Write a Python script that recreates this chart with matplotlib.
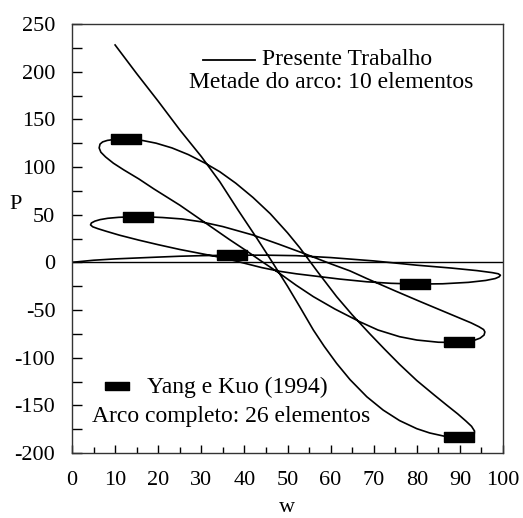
import matplotlib
matplotlib.use('Agg')
import matplotlib.pyplot as plt
from matplotlib.ticker import MultipleLocator

plt.rcParams['font.family'] = ['Liberation Serif', 'DejaVu Serif']
plt.rcParams['font.size'] = 16
plt.rcParams['axes.unicode_minus'] = False

# Presente Trabalho - equilibrium path, one branch per half loop
w_ramo1 = [0, 5, 10, 15, 20, 25, 30, 37, 45, 52, 60, 70, 80, 88, 94, 97.5, 98.9, 99.4]
p_ramo1 = [0, 2.2, 3.6, 4.6, 5.5, 6.4, 7.0, 7.5, 7.5, 7.0, 5.0, 1.5, -3.0, -6.0, -8.7, -10.8, -12.0, -13.5]

w_ramo2 = [99.1, 98.2, 96, 92, 86, 80, 74, 68.4, 62, 57.5, 52, 48.3, 44, 40.5, 37, 33, 29, 25, 20, 15.5, 11, 8, 6, 4.8, 4.3]
p_ramo2 = [-15.2, -17, -19, -21, -22.5, -22.8, -22, -20.4, -17.5, -15, -12, -9.5, -5.5, -1.5, 2.5, 6.5, 10, 13.5, 18.5, 23.3, 28.5, 32.5, 35.3, 37.3, 39.3]

w_ramo3 = [4.5, 5.3, 6.5, 8.3, 10.8, 13, 15.2, 18, 21, 25.5, 30, 35, 42, 48, 53.7, 60, 64.5, 68.4, 75, 80.7, 86, 90, 92.6, 94.4, 95.5, 95.8]
p_ramo3 = [41.3, 43.2, 44.8, 46.2, 47.2, 47.6, 47.8, 47.6, 47.0, 45.5, 42.5, 37.5, 28.6, 19, 9.5, -1.5, -9, -17, -30, -41, -51, -58.5, -63.5, -67.5, -70.5, -73]

w_ramo4 = [95.6, 94.7, 93.2, 91.6, 89.8, 87.5, 85, 80, 76, 71, 66.8, 61, 56, 52, 48.3, 44, 40.5, 36.5, 33, 29, 25, 19, 15.5, 12, 9.6, 7.8, 6.7, 6.3]
p_ramo4 = [-76.3, -79.5, -82, -83.4, -83.8, -84, -83.8, -81.5, -78, -71, -62.4, -49, -36, -24, -12, 1, 12, 24, 35, 47.5, 60, 77, 87.5, 97, 104, 110.5, 115.5, 120]

w_ramo5 = [6.5, 7.1, 8.2, 9.7, 11.2, 12.6, 14.5, 16.5, 19.5, 23.2, 27, 30.9, 34.3, 38, 42, 46, 50, 52.9, 57, 61.4, 65, 69.1, 72.5, 76, 80, 84, 87, 89.5, 91.4, 92.7, 93.4, 93.3, 92.5, 91.3, 89.8]
p_ramo5 = [124, 126.3, 127.9, 128.8, 129.1, 129.2, 128.8, 127.7, 125, 120, 113, 104, 95, 83, 68, 51, 31, 15, -10, -36, -55, -75, -91, -107, -124, -139, -150, -159, -166.5, -172, -177, -180.5, -182.5, -183.4, -183.6]

w_ramo6 = [88, 86.5, 83, 80, 76, 72.2, 68.4, 64.5, 61.4, 58.5, 56, 52.9, 50, 46.5, 43, 38.5, 34.3, 30, 25, 20, 15, 12, 10]
p_ramo6 = [-183.2, -182.5, -179, -174.5, -166, -155, -141, -123, -106, -88, -71, -47, -25, 0, 24.5, 55, 84.5, 111, 139, 169, 198, 216, 228]

w_presente = w_ramo1 + w_ramo2 + w_ramo3 + w_ramo4 + w_ramo5 + w_ramo6
p_presente = p_ramo1 + p_ramo2 + p_ramo3 + p_ramo4 + p_ramo5 + p_ramo6

# Yang e Kuo (1994)
w_yang = [37.2, 15.2, 12.6, 79.5, 89.8, 89.8]
p_yang = [7.5, 47.8, 129.2, -22.8, -83.8, -183.3]

# flat rectangle marker (3:1)
retangulo = [(-3, -1), (3, -1), (3, 1), (-3, 1), (-3, -1)]

fig = plt.figure(figsize=(5.23, 5.18), dpi=100)
ax = fig.add_axes([72/523, 1 - 453/518, 431/523, 429/518])

ax.axhline(0, color='black', lw=1.0)
ax.plot(w_presente, p_presente, color='black', lw=1.2)
ax.plot(w_yang, p_yang, ls='none', marker=retangulo, ms=21.6, color='black')

ax.set_xlim(0, 100)
ax.set_ylim(-200, 250)
ax.xaxis.set_major_locator(MultipleLocator(10))
ax.xaxis.set_minor_locator(MultipleLocator(5))
ax.yaxis.set_major_locator(MultipleLocator(50))
ax.yaxis.set_minor_locator(MultipleLocator(25))
ax.tick_params(axis='x', which='major', direction='in', length=6, width=1, pad=13)
ax.tick_params(axis='x', which='minor', direction='in', length=4, width=1)
ax.tick_params(axis='y', which='both', direction='in', length=7.5, width=1, pad=12)
for s in ax.spines.values():
    s.set_linewidth(1.0)
    s.set_color('#333333')

ax.set_ylabel('P', rotation=0, va='center', ha='center')
ax.yaxis.set_label_coords(-0.132, 0.58)
fig.text(287/523, 1 - 508/518, 'w', ha='center', va='center')

# legend drawn by hand
ax.plot([0.304, 0.425], [0.916, 0.916], color='black', lw=1.3, transform=ax.transAxes)
ax.text(0.441, 0.918, 'Presente Trabalho', va='center', fontsize=17, transform=ax.transAxes)
ax.text(0.271, 0.863, 'Metade do arco: 10 elementos', va='center', fontsize=17, transform=ax.transAxes)
ax.plot([0.104], [0.156], ls='none', marker=retangulo, ms=17.3, color='black', transform=ax.transAxes)
ax.text(0.174, 0.152, 'Yang e Kuo (1994)', va='center', fontsize=17, transform=ax.transAxes)
ax.text(0.046, 0.084, 'Arco completo: 26 elementos', va='center', fontsize=17, transform=ax.transAxes)

plt.savefig('out.png', dpi=100)
